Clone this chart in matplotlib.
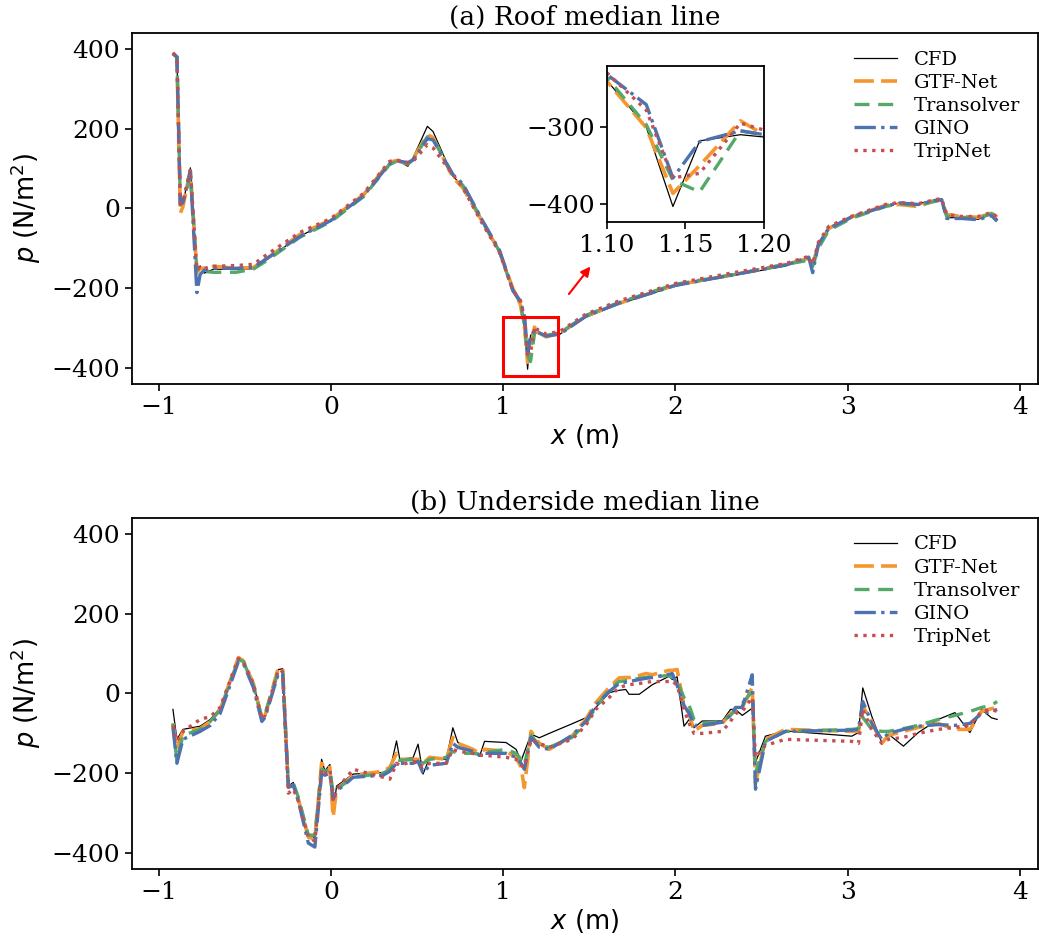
import matplotlib
matplotlib.use("Agg")
import matplotlib.pyplot as plt
from matplotlib.patches import Rectangle

plt.rcParams['font.family'] = 'DejaVu Serif'
plt.rcParams['mathtext.fontset'] = 'dejavusans'

# ---------------- datos: (a) linea media del techo ----------------
x_roof = [-0.917, -0.894, -0.874, -0.859, -0.816, -0.778, -0.759, -0.735, -0.68, -0.55,
          -0.45, -0.37, -0.18, 0.0, 0.19, 0.34, 0.38, 0.447, 0.477, 0.56,
          0.593, 0.708, 0.766, 0.882, 0.979, 1.056, 1.10, 1.125, 1.142, 1.159,
          1.185, 1.2, 1.25, 1.33, 1.48, 1.67, 2.0, 2.35, 2.64, 2.774,
          2.797, 2.83, 2.89, 3.02, 3.22, 3.30, 3.41, 3.507, 3.546, 3.575,
          3.662, 3.758, 3.835, 3.868]
roof_cfd = [389, 382, 10, 12, 102, -157, -144, -162, -152, -153,
            -151, -127, -69, -32, 31, 114, 122, 106, 127, 206,
            193, 81, 56, -36, -111, -200, -240, -300, -403, -318,
            -310, -313, -320, -315, -273, -240, -194, -167, -144, -123,
            -148, -94, -52, -23, 6, 14, 12, 22, 21, -23,
            -23, -27, -15, -27]
roof_gtf = [390, 380, -12, 5, 95, -160, -150, -150, -145, -150,
            -148, -125, -65, -28, 35, 116, 120, 112, 125, 185,
            178, 78, 52, -35, -108, -200, -241, -301, -386, -350,
            -292, -310, -322, -312, -270, -238, -192, -165, -140, -125,
            -140, -92, -50, -22, 8, 10, 5, 20, 22, -15,
            -20, -22, -12, -22]
roof_trans = [388, 380, 15, 20, 80, -155, -150, -158, -160, -160,
              -152, -130, -72, -33, 30, 110, 118, 112, 122, 180,
              175, 85, 58, -33, -108, -205, -236, -297, -369, -384,
              -305, -310, -318, -312, -268, -236, -190, -165, -140, -130,
              -145, -100, -55, -25, 5, 12, 8, 18, 20, -20,
              -22, -25, -12, -25]
roof_gino = [388, 380, 10, 15, 95, -211, -165, -155, -150, -150,
             -148, -125, -70, -30, 32, 112, 120, 115, 122, 175,
             172, 85, 62, -32, -105, -205, -232, -271, -366, -319,
             -305, -310, -320, -315, -270, -238, -193, -165, -142, -122,
             -161, -90, -50, -22, 6, 14, 10, 20, 22, -25,
             -25, -28, -18, -32]
roof_trip = [390, 380, 12, 15, 98, -155, -145, -150, -145, -143,
             -140, -115, -60, -25, 38, 118, 122, 115, 118, 160,
             152, 85, 52, -40, -110, -205, -230, -278, -366, -360,
             -295, -304, -315, -308, -265, -232, -188, -160, -138, -120,
             -140, -85, -45, -20, 10, 15, 12, 22, 25, -15,
             -20, -20, -10, -22]

# ---------------- datos: (b) linea media inferior ----------------
x_under = [-0.917, -0.894, -0.859, -0.759, -0.70, -0.643, -0.537, -0.508, -0.45, -0.401,
           -0.382, -0.305, -0.28, -0.247, -0.218, -0.189, -0.131, -0.093, -0.054, -0.035,
           -0.006, 0.013, 0.033, 0.13, 0.303, 0.342, 0.381, 0.40, 0.477, 0.506,
           0.535, 0.573, 0.67, 0.708, 0.737, 0.824, 0.863, 0.892, 1.017, 1.075,
           1.104, 1.123, 1.162, 1.21, 1.268, 1.40, 1.48, 1.538, 1.616, 1.673,
           1.712, 1.731, 1.79, 1.828, 1.866, 1.963, 1.982, 2.01, 2.05, 2.08,
           2.108, 2.156, 2.272, 2.32, 2.349, 2.388, 2.446, 2.465, 2.523, 2.639,
           3.024, 3.063, 3.088, 3.14, 3.198, 3.237, 3.324, 3.41, 3.526, 3.623,
           3.71, 3.777, 3.835, 3.868]
under_cfd = [-40, -115, -90, -82, -65, -36, 85, 81, 27, -65,
             -57, 60, 62, -232, -223, -265, -357, -361, -165, -194,
             -178, -298, -232, -202, -198, -194, -119, -165, -161, -127,
             -202, -161, -165, -86, -123, -140, -158, -120, -123, -140,
             -169, -147, -102, -111, -100, -76, -61, -35, 2, 8,
             10, -2, -2, 10, 22, 43, 35, 42, -82, -65,
             -86, -69, -69, -40, -40, -55, -37, -173, -107, -94,
             -107, -98, 14, -57, -123, -102, -132, -98, -65, -48,
             -98, -40, -61, -65]
under_gtf = [-75, -140, -95, -88, -70, -40, 90, 82, 25, -62,
             -55, 65, 62, -235, -230, -265, -360, -365, -175, -190,
             -185, -310, -240, -205, -195, -185, -150, -165, -165, -165,
             -175, -160, -165, -110, -125, -140, -150, -140, -145, -160,
             -185, -236, -95, -125, -140, -107, -65, -23, 15, 39,
             40, 40, 45, 50, 47, 58, 58, 60, -30, -50,
             -95, -80, -75, -50, -45, -35, 15, -225, -115, -90,
             -95, -95, -32, -70, -125, -105, -95, -85, -75, -90,
             -90, -45, -38, -35]
under_trans = [-75, -170, -105, -90, -70, -40, 85, 80, 20, -60,
               -50, 55, 55, -230, -225, -260, -355, -355, -190, -195,
               -190, -250, -240, -210, -200, -190, -165, -168, -165, -168,
               -175, -165, -160, -145, -150, -150, -152, -148, -140, -150,
               -165, -180, -105, -130, -135, -110, -75, -35, 10, 30,
               32, 33, 38, 40, 42, 45, 40, 30, -10, -30,
               -65, -75, -70, -55, -40, -25, 5, -200, -120, -95,
               -90, -88, -60, -90, -95, -95, -88, -80, -65, -55,
               -45, -35, -30, -20]
under_gino = [-85, -175, -115, -95, -80, -50, 80, 75, 15, -70,
              -60, 50, 50, -235, -230, -270, -375, -385, -200, -205,
              -200, -265, -245, -210, -205, -195, -175, -175, -175, -170,
              -200, -180, -175, -125, -135, -145, -155, -150, -150, -160,
              -175, -190, -110, -135, -140, -105, -70, -30, 5, 25,
              28, 30, 35, 38, 40, 48, 50, 20, -30, -50,
              -80, -80, -72, -55, -35, -35, 47, -240, -120, -95,
              -92, -90, -20, -75, -115, -100, -90, -82, -78, -80,
              -75, -50, -45, -40]
under_trip = [-80, -120, -95, -65, -58, -35, 88, 78, 25, -65,
              -55, 60, 55, -250, -240, -270, -360, -370, -190, -200,
              -190, -270, -240, -190, -210, -215, -175, -180, -170, -175,
              -185, -175, -175, -140, -145, -150, -155, -155, -160, -165,
              -180, -185, -115, -125, -135, -115, -80, -40, -10, 15,
              20, 22, 25, 28, 30, 30, 32, 20, -40, -75,
              -100, -100, -95, -70, -50, -45, -10, -160, -130, -115,
              -120, -125, -40, -90, -125, -115, -110, -100, -90, -85,
              -80, -45, -40, -45]

nombres = ['CFD', 'GTF-Net', 'Transolver', 'GINO', 'TripNet']
colores = ['black', '#F5962F', '#55A868', '#4C72B0', '#C44E52']

ylabel = r'$p$ (N/m$^2$)'
xlabel = r'$x$ (m)'


def dibujar_curvas(ax, x, series):
    # CFD linea fina y los modelos con distintos estilos
    ax.plot(x, series[0], color=colores[0], lw=0.9, label=nombres[0])
    ax.plot(x, series[1], color=colores[1], lw=2.6, dashes=(5.5, 2.0), label=nombres[1])
    ax.plot(x, series[2], color=colores[2], lw=2.4, dashes=(4.5, 2.6), label=nombres[2])
    ax.plot(x, series[3], color=colores[3], lw=2.4, linestyle='-.', label=nombres[3])
    ax.plot(x, series[4], color=colores[4], lw=2.4, linestyle=':', label=nombres[4])


def formato_ejes(ax, titulo):
    ax.set_xlim(-1.155, 4.105)
    ax.set_ylim(-440, 440)
    ax.set_xticks([-1, 0, 1, 2, 3, 4])
    ax.set_yticks([-400, -200, 0, 200, 400])
    ax.tick_params(labelsize=18, width=1.2, length=5)
    for s in ax.spines.values():
        s.set_linewidth(1.3)
    ax.set_title(titulo, fontsize=19, pad=6)
    ax.set_xlabel(xlabel, fontsize=18.5, family='DejaVu Sans', labelpad=2)
    ax.set_ylabel(ylabel, fontsize=18.5, family='DejaVu Sans', labelpad=6)
    ax.legend(loc='upper right', frameon=False, fontsize=14, labelspacing=0.26,
              handlelength=2.2, handletextpad=0.9)


fig = plt.figure(figsize=(10.39, 9.49), dpi=100)

# ---------- (a) ----------
ax1 = fig.add_axes([0.127, 0.5954, 0.872, 0.3698])
dibujar_curvas(ax1, x_roof, [roof_cfd, roof_gtf, roof_trans, roof_gino, roof_trip])
formato_ejes(ax1, '(a) Roof median line')

# recuadro rojo y flecha
ax1.add_patch(Rectangle((1.0, -420), 0.32, 148, fill=False, edgecolor='red', lw=2.2, zorder=5))
ax1.annotate('', xy=(1.517, -140), xytext=(1.372, -220),
             arrowprops=dict(arrowstyle='-|>', color='red', lw=1.5, mutation_scale=14))

# zoom interior
axin = fig.add_axes([0.5842, 0.7661, 0.1511, 0.1644])
dibujar_curvas(axin, x_roof, [roof_cfd, roof_gtf, roof_trans, roof_gino, roof_trip])
axin.set_xlim(1.10, 1.20)
axin.set_ylim(-423, -221)
axin.set_xticks([1.10, 1.15, 1.20])
axin.set_xticklabels(['1.10', '1.15', '1.20'])
axin.set_yticks([-400, -300])
axin.tick_params(labelsize=18, width=1.2, length=5)
for s in axin.spines.values():
    s.set_linewidth(1.3)

# ---------- (b) ----------
ax2 = fig.add_axes([0.127, 0.0843, 0.872, 0.3699])
dibujar_curvas(ax2, x_under, [under_cfd, under_gtf, under_trans, under_gino, under_trip])
formato_ejes(ax2, '(b) Underside median line')

fig.savefig('out.png', dpi=100)
